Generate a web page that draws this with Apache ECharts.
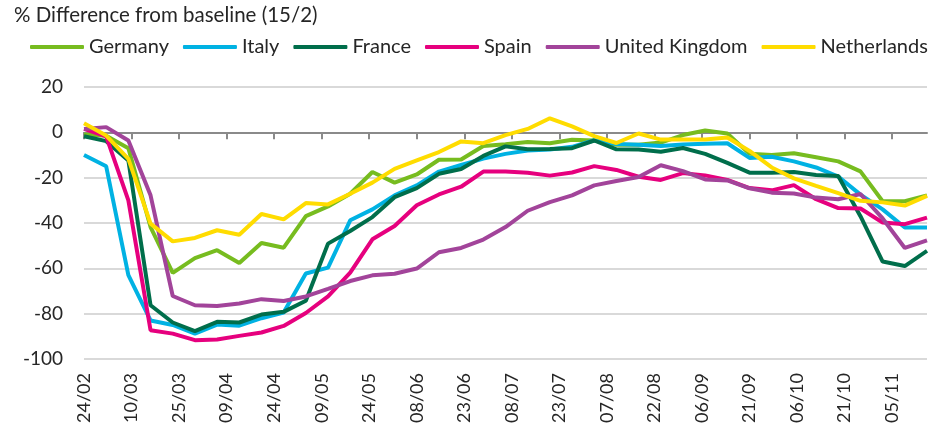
<!DOCTYPE html>
<html>
<head>
<meta charset="utf-8">
<script src="https://cdn.jsdelivr.net/npm/echarts@6/dist/echarts.min.js"></script>
<style>
  body { margin: 0; background: #fff; }
  #main { width: 928px; height: 432px; }
</style>
</head>
<body>
<div id="main"></div>
<script>
// weekly points, 2020
const weeks = ['24/02', '02/03', '09/03', '16/03', '23/03', '30/03', '06/04', '13/04', '20/04', '27/04',
  '04/05', '11/05', '18/05', '25/05', '01/06', '08/06', '15/06', '22/06', '29/06', '06/07',
  '13/07', '20/07', '27/07', '03/08', '10/08', '17/08', '24/08', '31/08', '07/09', '14/09',
  '21/09', '28/09', '05/10', '12/10', '19/10', '26/10', '02/11', '09/11', '16/11'];

// labels on the x axis (every 15 days)
const tickLabels = ['24/02', '10/03', '25/03', '09/04', '24/04', '09/05', '24/05', '08/06', '23/06',
  '08/07', '23/07', '07/08', '22/08', '06/09', '21/09', '06/10', '21/10', '05/11'];

const germany = [-1, -1.5, -7, -41.8, -62, -55.5, -52, -57.6, -48.8, -50.9,
  -37, -32.7, -27.1, -17.5, -22.2, -18.6, -12.1, -12, -6, -5.3,
  -4.3, -4.8, -3.3, -3.6, -5.5, -5.5, -4.5, -1.2, 0.8, -0.5,
  -9.5, -10, -9.2, -11, -12.8, -17.2, -30.4, -30.4, -27.8];
const italy = [-10, -15, -63, -83, -85, -88.8, -84.8, -85.3, -82, -79.5,
  -62.3, -59.7, -38.8, -34, -27.8, -23.4, -17.3, -14.4, -11.6, -9.5,
  -8, -7.6, -6.4, -3.5, -5.2, -5.5, -6, -5.4, -5, -4.8,
  -11.3, -10.8, -12.8, -15.5, -19.5, -27.5, -34, -42, -42];
const france = [-1.7, -3.9, -12.4, -76.3, -83.9, -87.7, -83.6, -83.9, -80.4, -79.2,
  -74.3, -49.1, -43.5, -37.4, -28.6, -24.6, -18.3, -16.2, -10.4, -6.2,
  -7.5, -7.3, -7, -3.6, -7.5, -7.6, -8.6, -6.9, -9.5, -13.5,
  -17.8, -17.8, -17.5, -18.8, -19.3, -37, -57, -59, -52.3];
const spain = [1.5, -1.8, -30, -87.3, -88.8, -91.7, -91.4, -89.8, -88.3, -85.4,
  -79.7, -72.4, -61.9, -47.2, -41.3, -32.2, -27.4, -24, -17.3, -17.3,
  -17.8, -19.1, -17.7, -14.9, -16.6, -19.6, -21, -18, -19, -21,
  -24.6, -25.6, -23.3, -29.5, -33.4, -33.6, -39.8, -40.5, -37.6];
const uk = [1.5, 2.3, -3.6, -27.8, -72.2, -76.3, -76.6, -75.5, -73.6, -74.4,
  -72.4, -69.1, -65.6, -63.1, -62.4, -60.1, -52.9, -51, -47.3, -41.8,
  -34.6, -30.8, -27.8, -23.4, -21.5, -19.7, -14.5, -17.1, -20.8, -21.2,
  -24.7, -26.6, -27, -28.8, -29.5, -27.2, -38, -51, -47.7];
const netherlands = [4, -1.4, -11.7, -40.3, -48.1, -46.6, -43.2, -45.2, -36, -38.4,
  -31.2, -31.8, -27.1, -22.2, -16.1, -12.4, -8.7, -4, -4.8, -1.2,
  1.5, 6.2, 2.6, -1.7, -4.7, -0.5, -3.2, -3.2, -3.2, -2.3,
  -8.2, -15.5, -20.3, -23.6, -26.8, -30.2, -30.9, -32.3, -28];

const YEAR = 2020;
const FONT = 'Lato';
const TEXT = '#262626';

// "dd/mm" -> day number counted from the first week
const DAY = 86400000;
function toUTC(s) {
  const [d, m] = s.split('/').map(Number);
  return Date.UTC(YEAR, m - 1, d);
}
const start = toUTC(weeks[0]);
function toDay(s) { return Math.round((toUTC(s) - start) / DAY); }

const weekDays = weeks.map(toDay);
const tickDays = tickLabels.map(toDay);
const xMax = weekDays[weekDays.length - 1];

const seriesList = [
  { name: 'Germany', data: germany, color: '#77bc1f' },
  { name: 'Italy', data: italy, color: '#00b2e3' },
  { name: 'France', data: france, color: '#006e4b' },
  { name: 'Spain', data: spain, color: '#e6007e' },
  { name: 'United Kingdom', data: uk, color: '#a2449a' },
  { name: 'Netherlands', data: netherlands, color: '#ffdc00' },
];

const chart = echarts.init(document.getElementById('main'));

chart.setOption({
  animation: false,
  title: {
    text: '% Difference from baseline (15/2)',
    left: 14,
    top: 5,
    padding: 0,
    textStyle: { fontFamily: FONT, fontSize: 20.5, fontWeight: 'normal', color: TEXT },
  },
  legend: {
    top: 37,
    left: 30,
    padding: 0,
    itemGap: 14,
    itemWidth: 54,
    itemHeight: 4,
    icon: 'roundRect',
    textStyle: { fontFamily: FONT, fontSize: 20, color: TEXT },
    data: seriesList.map((s) => s.name),
  },
  grid: { left: 84, right: 1, top: 87, bottom: 73 },
  xAxis: [
    {
      // line at zero with ticks
      type: 'value',
      min: 0,
      max: xMax,
      axisLine: { onZero: true, lineStyle: { color: '#8a8a8a', width: 2 } },
      axisTick: { show: true, length: 7, customValues: tickDays, lineStyle: { color: '#8a8a8a', width: 2 } },
      axisLabel: { show: false },
      splitLine: { show: false },
    },
    {
      // labels at the bottom
      type: 'value',
      position: 'bottom',
      min: 0,
      max: xMax,
      axisLine: { show: false, onZero: false },
      axisTick: { show: false },
      splitLine: { show: false },
      axisLabel: {
        show: true,
        customValues: tickDays,
        rotate: 90,
        margin: 14,
        fontFamily: FONT,
        fontSize: 18,
        color: TEXT,
        formatter: (v) => tickLabels[tickDays.indexOf(v)] || '',
      },
    },
  ],
  yAxis: {
    type: 'value',
    min: -100,
    max: 20,
    interval: 20,
    axisLine: { show: false },
    axisTick: { show: false },
    axisLabel: { margin: 21, fontFamily: FONT, fontSize: 19, color: TEXT },
    splitLine: { lineStyle: { color: '#d9d9d9', width: 2 } },
  },
  series: seriesList.map((s) => ({
    name: s.name,
    type: 'line',
    xAxisIndex: 0,
    data: s.data.map((v, i) => [weekDays[i], v]),
    showSymbol: false,
    color: s.color,
    lineStyle: { width: 4, color: s.color },
  })),
});
</script>
</body>
</html>
